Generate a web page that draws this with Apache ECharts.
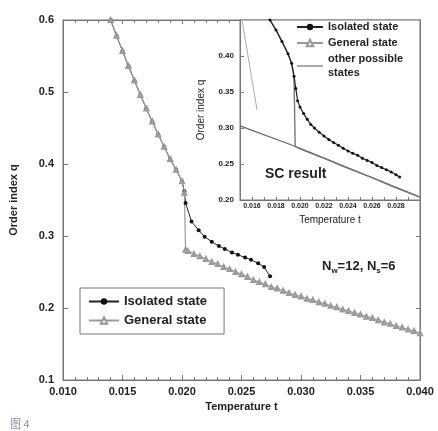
<!DOCTYPE html>
<html>
<head>
<meta charset="utf-8">
<script src="https://cdn.jsdelivr.net/npm/echarts@6/dist/echarts.min.js"></script>
<style>
  html, body { margin: 0; padding: 0; background: #fff; }
  #chart { width: 438px; height: 431px; }
</style>
</head>
<body>
<div id="chart"></div>
<script>
// main panel: isolated state
const isoT = [0.0140, 0.0145, 0.0150, 0.0155, 0.0160, 0.0165, 0.0170, 0.0175, 0.0180, 0.0185,
  0.0190, 0.0195, 0.0200, 0.0202, 0.0203, 0.0208, 0.0214, 0.0219, 0.0225, 0.0231,
  0.0236, 0.0242, 0.0247, 0.0253, 0.0258, 0.0264, 0.0269, 0.0274];
const isoQ = [0.600, 0.578, 0.557, 0.536, 0.516, 0.496, 0.477, 0.459, 0.441, 0.424,
  0.407, 0.392, 0.376, 0.362, 0.346, 0.320, 0.308, 0.299, 0.292, 0.286,
  0.282, 0.277, 0.274, 0.270, 0.267, 0.262, 0.257, 0.244];
// main panel: general state
const genT = [0.0140, 0.0145, 0.0150, 0.0155, 0.0160, 0.0165, 0.0170, 0.0175, 0.0180, 0.0185,
  0.0190, 0.0195, 0.0200, 0.0202, 0.0203, 0.0205, 0.0210, 0.0215, 0.0220, 0.0225,
  0.0230, 0.0235, 0.0240, 0.0245, 0.0250, 0.0255, 0.0260, 0.0265, 0.0270, 0.0275,
  0.0280, 0.0285, 0.0290, 0.0295, 0.0300, 0.0305, 0.0310, 0.0315, 0.0320, 0.0325,
  0.0330, 0.0335, 0.0340, 0.0345, 0.0350, 0.0355, 0.0360, 0.0365, 0.0370, 0.0375,
  0.0380, 0.0385, 0.0390, 0.0395, 0.0400];
const genQ = [0.600, 0.578, 0.557, 0.536, 0.516, 0.496, 0.477, 0.459, 0.441, 0.424,
  0.407, 0.392, 0.376, 0.360, 0.281, 0.279, 0.275, 0.272, 0.268, 0.264,
  0.261, 0.257, 0.254, 0.250, 0.247, 0.243, 0.239, 0.236, 0.233, 0.229,
  0.227, 0.224, 0.221, 0.218, 0.216, 0.213, 0.211, 0.208, 0.206, 0.203,
  0.201, 0.198, 0.196, 0.193, 0.191, 0.188, 0.186, 0.183, 0.180, 0.178,
  0.175, 0.173, 0.170, 0.168, 0.165];

// inset
const insIsoT = [0.0175, 0.0180, 0.0185, 0.0190, 0.0193, 0.0195, 0.01965, 0.0198, 0.0200, 0.0203,
  0.0206, 0.0209, 0.0212, 0.0216, 0.0220, 0.0224, 0.0228, 0.0232, 0.0236, 0.0240,
  0.0244, 0.0248, 0.0252, 0.0256, 0.0260, 0.0264, 0.0268, 0.0272, 0.0276, 0.0280, 0.0283];
const insIsoQ = [0.450, 0.436, 0.420, 0.403, 0.390, 0.372, 0.355, 0.338, 0.329, 0.320,
  0.312, 0.305, 0.300, 0.294, 0.289, 0.284, 0.280, 0.276, 0.272, 0.268,
  0.265, 0.262, 0.258, 0.255, 0.252, 0.248, 0.245, 0.242, 0.239, 0.235, 0.232];
const insGenT = [0.0175, 0.0180, 0.0185, 0.0190, 0.0193, 0.0195, 0.0196, 0.0200, 0.0220, 0.0240,
  0.0260, 0.0280, 0.0300];
const insGenQ = [0.450, 0.436, 0.420, 0.403, 0.390, 0.372, 0.274, 0.271, 0.258, 0.244,
  0.231, 0.217, 0.204];
const scT = [0.0150, 0.0197, 0.0300];
const scQ = [0.303, 0.274, 0.204];
const otherT = [0.01517, 0.01642];
const otherQ = [0.450, 0.325];

const zip = (xs, ys) => xs.map((x, i) => [x, ys[i]]);

const frame = '#777';
const txt = '#222';
const fontFam = 'Liberation Sans, Arial, sans-serif';

const chart = echarts.init(document.getElementById('chart'));

const mirrorX = (gi, min, max, interval, minor) => ({
  type: 'value', gridIndex: gi, position: 'top', min: min, max: max, interval: interval,
  axisLine: { show: true, lineStyle: { color: frame } },
  axisTick: { show: true, inside: true, length: 4, lineStyle: { color: frame } },
  minorTick: { show: minor, splitNumber: 5, length: 3, lineStyle: { color: frame } },
  axisLabel: { show: false }, splitLine: { show: false }
});
const mirrorY = (gi, min, max, interval) => ({
  type: 'value', gridIndex: gi, position: 'right', min: min, max: max, interval: interval,
  axisLine: { show: true, lineStyle: { color: frame } },
  axisTick: { show: true, inside: true, length: 4, lineStyle: { color: frame } },
  axisLabel: { show: false }, splitLine: { show: false }
});

const option = {
  animation: false,
  textStyle: { fontFamily: fontFam },
  grid: [
    { left: 60, top: 20, right: 18, bottom: 51, show: true, borderColor: frame, borderWidth: 1 },
    { left: 240, top: 20, right: 18, bottom: 231, show: true, borderColor: frame, borderWidth: 1,
      backgroundColor: '#fff', z: 3 }
  ],
  xAxis: [
    {
      type: 'value', gridIndex: 0, min: 0.010, max: 0.040, interval: 0.005,
      name: 'Temperature t', nameLocation: 'middle', nameGap: 21,
      nameTextStyle: { color: txt, fontSize: 11, fontWeight: 'bold' },
      axisLine: { show: true, lineStyle: { color: frame } },
      axisTick: { show: true, inside: true, length: 5, lineStyle: { color: frame } },
      minorTick: { show: true, splitNumber: 5, length: 3, lineStyle: { color: frame } },
      axisLabel: { color: txt, fontSize: 11, fontWeight: 'bold', margin: 6,
        formatter: v => v.toFixed(3) },
      splitLine: { show: false }
    },
    mirrorX(0, 0.010, 0.040, 0.005, true),
    {
      type: 'value', gridIndex: 1, min: 0.015, max: 0.030, interval: 0.001,
      name: 'Temperature t', nameLocation: 'middle', nameGap: 15,
      nameTextStyle: { color: txt, fontSize: 10 },
      axisLine: { show: true, lineStyle: { color: frame } },
      axisTick: { show: true, inside: true, length: 3, lineStyle: { color: frame } },
      axisLabel: { color: txt, fontSize: 7, fontWeight: 'bold', margin: 3, showMaxLabel: false,
        formatter: v => (Math.round(v * 1000) % 2 === 0 ? v.toFixed(3) : '') },
      splitLine: { show: false }, z: 4
    }
  ],
  yAxis: [
    {
      type: 'value', gridIndex: 0, min: 0.1, max: 0.6, interval: 0.1,
      name: 'Order index q', nameLocation: 'middle', nameGap: 44,
      nameTextStyle: { color: txt, fontSize: 11, fontWeight: 'bold' },
      axisLine: { show: true, lineStyle: { color: frame } },
      axisTick: { show: true, inside: true, length: 5, lineStyle: { color: frame } },
      axisLabel: { color: txt, fontSize: 11, fontWeight: 'bold', margin: 9,
        formatter: v => v.toFixed(1) },
      splitLine: { show: false }
    },
    mirrorY(0, 0.1, 0.6, 0.1),
    {
      type: 'value', gridIndex: 1, min: 0.20, max: 0.45, interval: 0.05,
      name: 'Order index q', nameLocation: 'middle', nameGap: 34,
      nameTextStyle: { color: txt, fontSize: 10 },
      axisLine: { show: true, lineStyle: { color: frame } },
      axisTick: { show: true, inside: true, length: 4, lineStyle: { color: frame } },
      axisLabel: { color: txt, fontSize: 8, fontWeight: 'bold', margin: 6, showMaxLabel: false,
        formatter: v => v.toFixed(2) },
      splitLine: { show: false }, z: 4
    },
    mirrorY(1, 0.20, 0.45, 0.05)
  ],
  legend: [
    {
      left: 80, top: 288, orient: 'vertical', itemWidth: 30, itemHeight: 8, itemGap: 6,
      padding: [7, 17, 7, 8], borderColor: frame, borderWidth: 1,
      data: ['Isolated state', 'General state'],
      textStyle: { color: txt, fontSize: 13, fontWeight: 'bold' }
    },
    {
      left: 296, top: 18, orient: 'vertical', itemWidth: 26, itemHeight: 8, itemGap: 2,
      padding: [2, 4, 2, 0], z: 5,
      data: ['Isolated state', 'General state',
        { name: 'other possible states', itemStyle: { opacity: 0 } }],
      formatter: n => (n === 'other possible states' ? 'other possible\nstates' : n),
      textStyle: { color: txt, fontSize: 11, fontWeight: 'bold', lineHeight: 14 }
    }
  ],
  series: [
    {
      name: 'Isolated state', type: 'line', xAxisIndex: 0, yAxisIndex: 0,
      data: zip(isoT, isoQ), symbol: 'circle', symbolSize: 4,
      lineStyle: { color: '#222', width: 1 }, itemStyle: { color: '#111' }
    },
    {
      name: 'General state', type: 'line', xAxisIndex: 0, yAxisIndex: 0,
      data: zip(genT, genQ), symbol: 'emptyTriangle', symbolSize: 4,
      lineStyle: { color: '#999', width: 1.2 }, itemStyle: { color: '#999', borderWidth: 1 }
    },
    {
      name: 'SC', type: 'line', xAxisIndex: 2, yAxisIndex: 2, z: 4,
      data: zip(scT, scQ), symbol: 'none', lineStyle: { color: '#666', width: 1.2 }
    },
    {
      name: 'other possible states', type: 'line', xAxisIndex: 2, yAxisIndex: 2, z: 4,
      data: zip(otherT, otherQ), symbol: 'none', lineStyle: { color: '#aaa', width: 1 },
      itemStyle: { color: '#aaa' }
    },
    {
      name: 'General state', type: 'line', xAxisIndex: 2, yAxisIndex: 2, z: 4,
      data: zip(insGenT, insGenQ), symbol: 'emptyTriangle', symbolSize: 3, showSymbol: false,
      lineStyle: { color: '#777', width: 1.4 }, itemStyle: { color: '#999' }
    },
    {
      name: 'Isolated state', type: 'line', xAxisIndex: 2, yAxisIndex: 2, z: 4,
      data: zip(insIsoT, insIsoQ), symbol: 'circle', symbolSize: 3,
      lineStyle: { color: '#222', width: 1.2 }, itemStyle: { color: '#111' }
    }
  ],
  graphic: [
    { type: 'text', left: 265, top: 167, z: 10,
      style: { text: 'SC result', fill: txt, font: 'bold 14px ' + fontFam } },
    { type: 'text', left: 322, top: 260, z: 10,
      style: {
        text: '{n|N}{s|w}{n|=12, N}{s|s}{n|=6}',
        rich: {
          n: { fill: txt, font: 'bold 13px ' + fontFam },
          s: { fill: txt, font: 'bold 8px ' + fontFam, padding: [8, 0, 0, 0] }
        }
      } },
    { type: 'text', left: 10, top: 418, z: 10,
      style: { text: '图 4', fill: '#8a8aaa', font: '11px "Noto Sans CJK SC", sans-serif' } }
  ]
};

chart.setOption(option);
</script>
</body>
</html>
